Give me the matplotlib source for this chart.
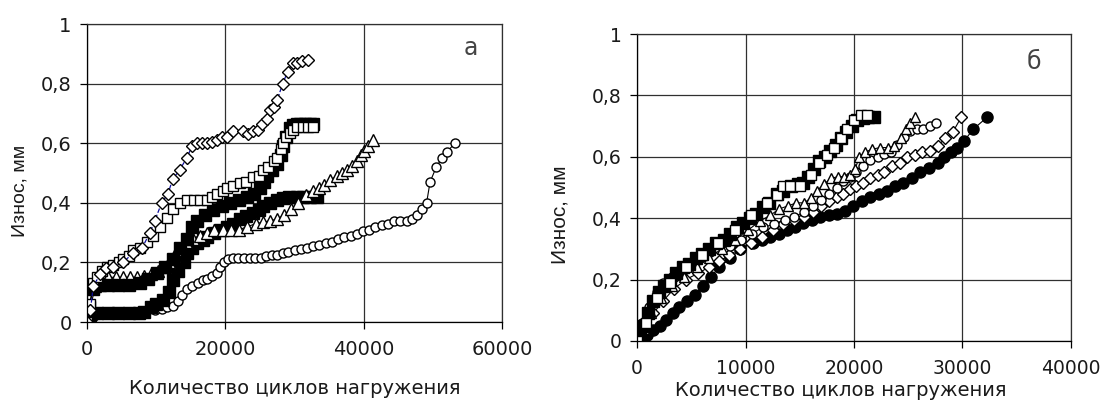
import matplotlib
matplotlib.use('Agg')
import matplotlib.pyplot as plt

plt.rcParams['font.family'] = ['DejaVu Sans']

# panel a
a_dia_x = [0, 500, 900, 1900, 2800, 3800, 5200, 6600, 8000, 9100, 9800, 10800, 11700, 12400, 13400, 14400, 15200, 15900, 16600, 17300,
           18100, 18800, 19500, 20200, 21100, 22500, 23300, 24000, 24700, 25300, 26000, 26500, 27000, 27500, 28300, 29000, 29800, 30400, 31100, 31900]
a_dia_y = [0, 0.04, 0.12, 0.16, 0.18, 0.185, 0.2, 0.23, 0.25, 0.3, 0.34, 0.4, 0.43, 0.48, 0.51, 0.55, 0.59, 0.6, 0.6, 0.6,
           0.605, 0.61, 0.62, 0.62, 0.64, 0.64, 0.63, 0.64, 0.645, 0.665, 0.68, 0.71, 0.72, 0.745, 0.8, 0.84, 0.87, 0.87, 0.875, 0.88]

a_sq_x = [0, 400, 900, 1500, 2200, 2900, 3800, 4600, 5200, 6000, 6600, 7600, 8700, 9600, 10500, 11500, 12500, 13400, 14400, 15400, 16300, 17300,
          18100, 18800, 19600, 20200, 21100, 22100, 23000, 24000, 24800, 25400, 26200, 27000, 27500, 28000, 28300, 28800, 29300, 29800, 30400, 31200, 32000, 32700]
a_sq_y = [0, 0.06, 0.13, 0.15, 0.17, 0.185, 0.19, 0.2, 0.21, 0.22, 0.24, 0.25, 0.27, 0.29, 0.32, 0.35, 0.38, 0.4, 0.41, 0.41, 0.41, 0.41,
          0.42, 0.43, 0.44, 0.45, 0.455, 0.465, 0.47, 0.485, 0.49, 0.51, 0.52, 0.54, 0.55, 0.58, 0.6, 0.62, 0.635, 0.645, 0.655, 0.655, 0.655, 0.655]

a_fill1_x = [0, 300, 900, 1900, 3000, 4500, 6000, 7600, 8800, 10100, 11300, 12400, 13400, 14400, 15200, 15900, 17000, 18200, 19500, 20700,
             22000, 23100, 24100, 25000, 25600, 26000, 26700, 27500, 28000, 28300, 28800, 29300, 29800, 30300, 30800, 31500, 32200, 32700]
a_fill1_y = [0, 0.05, 0.11, 0.125, 0.125, 0.125, 0.125, 0.13, 0.145, 0.165, 0.185, 0.21, 0.25, 0.28, 0.32, 0.34, 0.36, 0.375, 0.39, 0.4,
             0.41, 0.42, 0.43, 0.45, 0.47, 0.49, 0.51, 0.53, 0.56, 0.59, 0.62, 0.65, 0.66, 0.665, 0.665, 0.665, 0.665, 0.665]

a_fill2_x = [0, 500, 1500, 3000, 4500, 6000, 7500, 8300, 9200, 10000, 11000, 11800, 12400, 13200, 14000, 14500, 15200, 15900, 16700, 17400,
             18300, 19200, 20200, 21100, 22100, 23000, 24000, 24800, 25500, 26500, 27500, 28300, 29200, 30400, 31300, 32200, 33200]
a_fill2_y = [0, 0.025, 0.03, 0.03, 0.03, 0.03, 0.03, 0.035, 0.05, 0.06, 0.075, 0.1, 0.14, 0.17, 0.2, 0.23, 0.25, 0.265, 0.275, 0.285,
             0.3, 0.31, 0.32, 0.33, 0.345, 0.355, 0.365, 0.375, 0.39, 0.4, 0.41, 0.415, 0.42, 0.42, 0.42, 0.42, 0.42]

a_tri_x = [0, 500, 1200, 2000, 3000, 4200, 5200, 6200, 7200, 8200, 9200, 10200, 11000, 11800, 12600, 13400, 14300, 15300, 16300, 17300, 18300,
           19600, 20800, 22000, 23200, 24400, 25500, 26500, 27500, 28500, 29500, 30500, 31700, 32700, 33500, 34300, 35100, 36100, 36900, 37600,
           38300, 39000, 39600, 40100, 40600, 41300]
a_tri_y = [0, 0.05, 0.12, 0.14, 0.15, 0.15, 0.15, 0.15, 0.15, 0.155, 0.16, 0.17, 0.185, 0.2, 0.22, 0.25, 0.27, 0.28, 0.29, 0.3, 0.31,
           0.31, 0.31, 0.31, 0.32, 0.33, 0.335, 0.34, 0.345, 0.36, 0.38, 0.4, 0.425, 0.44, 0.45, 0.46, 0.475, 0.49, 0.5, 0.51,
           0.525, 0.54, 0.56, 0.575, 0.59, 0.61]

a_circ_x = [0, 1000, 2500, 4000, 5500, 7000, 8500, 9800, 10800, 11600, 12400, 13100, 13800, 14500, 15200, 16000, 16700, 17400, 18100, 18800,
            19300, 19800, 20400, 21100, 21900, 22700, 23500, 24300, 25100, 25900, 26700, 27500, 28300, 29100, 30000, 30900, 31800, 32700, 33600,
            34500, 35400, 36300, 37200, 38100, 39000, 39900, 40800, 41700, 42600, 43500, 44400, 45300, 46200, 47000, 47700, 48400, 49100, 49600,
            50500, 51300, 52000, 53200]
a_circ_y = [0, 0.02, 0.03, 0.03, 0.03, 0.03, 0.035, 0.04, 0.045, 0.05, 0.055, 0.07, 0.09, 0.11, 0.12, 0.13, 0.14, 0.145, 0.155, 0.165,
            0.185, 0.2, 0.21, 0.215, 0.215, 0.215, 0.215, 0.215, 0.215, 0.22, 0.225, 0.225, 0.23, 0.235, 0.24, 0.245, 0.25, 0.255, 0.26,
            0.265, 0.27, 0.28, 0.285, 0.29, 0.295, 0.305, 0.31, 0.32, 0.325, 0.33, 0.34, 0.34, 0.34, 0.345, 0.36, 0.38, 0.4, 0.47,
            0.52, 0.55, 0.57, 0.6]

# panel b
b_fsq_x = [0, 300, 600, 1000, 1500, 2000, 2500, 3000, 3600, 4200, 4800, 5400, 6000, 6600, 7300, 8000, 8600, 9200, 9800, 10400, 11000,
           11600, 12200, 12900, 13500, 14200, 14800, 15300, 15800, 16300, 16800, 17300, 17800, 18300, 18800, 19300, 19800, 20300, 20800, 21300, 21800]
b_fsq_y = [0, 0.02, 0.05, 0.09, 0.13, 0.16, 0.18, 0.2, 0.22, 0.24, 0.25, 0.27, 0.285, 0.3, 0.32, 0.33, 0.35, 0.37, 0.385, 0.4, 0.415,
           0.435, 0.45, 0.48, 0.49, 0.505, 0.51, 0.515, 0.535, 0.56, 0.585, 0.6, 0.62, 0.64, 0.66, 0.68, 0.7, 0.72, 0.725, 0.73, 0.73]

b_osq_x = [0, 800, 1800, 3000, 4500, 6000, 7500, 9000, 10500, 12000, 12900, 13500, 14100, 15000, 16000, 16800, 17500, 18200, 18800, 19400,
           20000, 20600, 21200]
b_osq_y = [0, 0.06, 0.14, 0.19, 0.24, 0.28, 0.32, 0.36, 0.41, 0.45, 0.475, 0.505, 0.505, 0.505, 0.54, 0.58, 0.605, 0.63, 0.66, 0.69,
           0.72, 0.735, 0.735]

b_tri_x = [0, 600, 1300, 2200, 3200, 4300, 5500, 6600, 7800, 9000, 10200, 11300, 12300, 13100, 13900, 14700, 15400, 16000, 16600, 17200,
           17900, 18500, 19100, 19600, 20100, 20500, 21000, 21700, 22400, 23100, 23700, 24300, 24800, 25200, 25600]
b_tri_y = [0, 0.04, 0.09, 0.14, 0.18, 0.21, 0.24, 0.27, 0.3, 0.33, 0.36, 0.39, 0.41, 0.43, 0.44, 0.45, 0.45, 0.465, 0.49, 0.51,
           0.53, 0.535, 0.535, 0.54, 0.56, 0.6, 0.615, 0.625, 0.63, 0.63, 0.635, 0.66, 0.69, 0.71, 0.73]

b_circ_x = [0, 500, 1100, 1800, 2400, 3200, 4000, 4900, 5800, 6700, 7600, 8600, 9600, 10600, 11600, 12600, 13600, 14500, 15400, 16200,
            17000, 17700, 18400, 19000, 19600, 20200, 20800, 21500, 22200, 22800, 23400, 24000, 24600, 25200, 25800, 26400, 27000, 27600]
b_circ_y = [0, 0.06, 0.11, 0.16, 0.19, 0.21, 0.23, 0.25, 0.27, 0.29, 0.3, 0.31, 0.33, 0.35, 0.37, 0.38, 0.395, 0.405, 0.42, 0.44,
            0.46, 0.48, 0.5, 0.52, 0.535, 0.55, 0.57, 0.59, 0.6, 0.61, 0.615, 0.64, 0.665, 0.685, 0.69, 0.69, 0.7, 0.71]

b_dia_x = [0, 700, 1500, 2400, 3400, 4500, 5600, 6600, 7600, 8500, 9500, 10500, 11500, 12500, 13500, 14500, 15400, 16200, 17000, 17700,
           18400, 19000, 19600, 20200, 20800, 21500, 22200, 22800, 23500, 24200, 24900, 25600, 26300, 27000, 27700, 28400, 29100, 29900]
b_dia_y = [0, 0.04, 0.09, 0.13, 0.17, 0.2, 0.22, 0.24, 0.26, 0.28, 0.3, 0.32, 0.34, 0.36, 0.38, 0.395, 0.405, 0.42, 0.44, 0.455,
           0.47, 0.48, 0.495, 0.505, 0.515, 0.53, 0.54, 0.55, 0.57, 0.58, 0.6, 0.605, 0.615, 0.62, 0.635, 0.66, 0.68, 0.73]

b_fcirc_x = [0, 900, 1500, 2100, 2700, 3300, 3900, 4600, 5300, 6100, 6800, 7600, 8600, 9500, 10700, 11500, 12300, 13100, 13800, 14600,
             15300, 16100, 16900, 17700, 18400, 19200, 19900, 20700, 21500, 22300, 23000, 23800, 24500, 25300, 26100, 26900, 27700, 28300,
             28900, 29500, 30100, 31000, 32300]
b_fcirc_y = [0, 0.02, 0.035, 0.05, 0.07, 0.09, 0.11, 0.13, 0.15, 0.18, 0.21, 0.24, 0.27, 0.3, 0.32, 0.33, 0.34, 0.35, 0.36, 0.37,
             0.385, 0.395, 0.405, 0.41, 0.415, 0.425, 0.44, 0.455, 0.47, 0.48, 0.49, 0.505, 0.515, 0.53, 0.55, 0.565, 0.58, 0.6,
             0.615, 0.63, 0.65, 0.69, 0.73]

yticks = [0, 0.2, 0.4, 0.6, 0.8, 1]
ylabels = ['0', '0,2', '0,4', '0,6', '0,8', '1']

W, H = 1105, 407
fig = plt.figure(figsize=(W / 100, H / 100), dpi=100)
ax1 = fig.add_axes([87 / W, 1 - 322 / H, 415 / W, 298 / H])
ax2 = fig.add_axes([637 / W, 1 - 341 / H, 434 / W, 307 / H])

def style(ax, xmax, xstep, tsize, lsize, ysize):
    ax.set_xlim(0, xmax)
    ax.set_ylim(0, 1)
    ax.set_xticks(range(0, xmax + 1, xstep))
    ax.set_yticks(yticks)
    ax.set_yticklabels(ylabels)
    ax.grid(True, color='#303030', linewidth=0.9)
    ax.set_axisbelow(True)
    for s in ax.spines.values():
        s.set_color('#303030')
        s.set_linewidth(0.9)
    ax.spines['left'].set_color('black')
    ax.spines['bottom'].set_color('black')
    ax.tick_params(direction='out', length=5, width=0.9, labelsize=tsize, colors='black', labelcolor='#1a1a1a')
    ax.tick_params(axis='y', pad=6)
    ax.tick_params(axis='x', pad=8)
    ax.set_ylabel('Износ, мм', fontsize=ysize, color='#1a1a1a', family='Liberation Sans')
    ax.set_xlabel('Количество циклов нагружения', fontsize=lsize, color='#1a1a1a')

kw_open = dict(color='black', linewidth=0.8, markerfacecolor='white', markeredgecolor='black', markeredgewidth=1.0)
kw_fill = dict(color='black', linewidth=0.8, markerfacecolor='black', markeredgecolor='black')

ax1.plot(a_circ_x, a_circ_y, marker='o', markersize=6.5, **kw_open)
ax1.plot(a_fill2_x, a_fill2_y, marker='s', markersize=8.5, **kw_fill)
ax1.plot(a_tri_x, a_tri_y, marker='^', markersize=8.5, **kw_open)
ax1.plot(a_fill1_x, a_fill1_y, marker='s', markersize=8.5, **kw_fill)
ax1.plot(a_sq_x, a_sq_y, marker='s', markersize=7.5, **kw_open)
ax1.plot(a_dia_x, a_dia_y, marker='D', markersize=6.5, markerfacecolor='white', markeredgecolor='black',
         markeredgewidth=1.0, color='#1010a0', linestyle='--', linewidth=0.9)
style(ax1, 60000, 20000, 14, 14, 14)
ax1.yaxis.set_label_coords(-0.14, 0.44)
ax1.xaxis.set_label_coords(0.5, -0.19)
ax1.text(0.925, 0.92, 'а', transform=ax1.transAxes, fontsize=17, color='#444444', ha='center', va='center')

ax2.plot(b_fcirc_x, b_fcirc_y, marker='o', markersize=8, **kw_fill)
ax2.plot(b_dia_x, b_dia_y, marker='D', markersize=6.5, **kw_open)
ax2.plot(b_circ_x, b_circ_y, marker='o', markersize=6.5, **kw_open)
ax2.plot(b_tri_x, b_tri_y, marker='^', markersize=7.5, **kw_open)
ax2.plot(b_fsq_x, b_fsq_y, marker='s', markersize=8.5, **kw_fill)
ax2.plot(b_osq_x, b_osq_y, marker='s', markersize=7.5, **kw_open)
style(ax2, 40000, 10000, 13.5, 14, 15)
ax2.yaxis.set_label_coords(-0.155, 0.41)
ax2.xaxis.set_label_coords(0.47, -0.13)
ax2.text(0.915, 0.91, 'б', transform=ax2.transAxes, fontsize=17, color='#444444', ha='center', va='center')

plt.savefig('out.png', dpi=100)
